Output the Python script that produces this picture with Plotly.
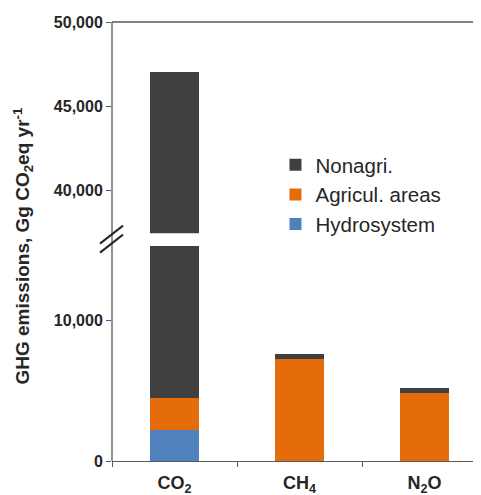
import plotly.graph_objects as go

categories = ["CO<sub>2</sub>", "CH<sub>4</sub>", "N<sub>2</sub>O"]
hydrosystem = [2200, 0, 0]
agricul = [2250, 7250, 4850]
nonagri = [42550, 370, 300]

series = [
    ("Hydrosystem", hydrosystem, "#4F81BD"),
    ("Agricul. areas", agricul, "#E46C0A"),
    ("Nonagri.", nonagri, "#404040"),
]

lower_range = [0, 15250]
upper_range = [37435, 50000]

fig = go.Figure()
for name, vals, col in series:
    fig.add_trace(go.Bar(x=categories, y=vals, name=name, marker_color=col,
                         marker_line_width=0, width=0.39, yaxis="y"))
for name, vals, col in series:
    fig.add_trace(go.Bar(x=categories, y=vals, name=name, marker_color=col,
                         marker_line_width=0, width=0.39, yaxis="y2",
                         showlegend=False))

axis_col = "#595959"
tick_font = dict(family="Liberation Sans, Arial", size=16, color="#262626", weight="bold")

fig.update_layout(
    width=473, height=487,
    margin=dict(l=104, r=0, t=14, b=34),
    barmode="stack",
    plot_bgcolor="white", paper_bgcolor="white",
    showlegend=True,
    legend=dict(x=0.443, y=0.72, xanchor="left", yanchor="top",
                traceorder="reversed",
                font=dict(family="Liberation Sans, Arial", size=20.5, color="#262626"),
                bgcolor="rgba(0,0,0,0)"),
    xaxis=dict(range=[-0.5, 2.452], showline=True, linecolor=axis_col, linewidth=1.3,
               ticks="outside", tickson="boundaries", ticklen=5, tickcolor=axis_col,
               ticklabelstandoff=5,
               tickfont=dict(family="Liberation Sans, Arial", size=18, color="#262626", weight="bold"),
               showgrid=False, anchor="y"),
    yaxis=dict(domain=[0, 0.4897], range=lower_range, dtick=10000, tickformat=",",
               showgrid=False, zeroline=False, showline=False,
               ticks="outside", ticklen=5, tickcolor=axis_col, tickfont=tick_font),
    yaxis2=dict(domain=[0.5187, 1], range=upper_range, dtick=5000, tickformat=",",
                showgrid=False, zeroline=False, showline=False, anchor="x",
                ticks="outside", ticklen=5, tickcolor=axis_col, tickfont=tick_font),
)

# axis frame lines
fig.add_shape(type="line", xref="paper", yref="paper", x0=0, x1=0, y0=0, y1=1,
              line=dict(color=axis_col, width=1.3))
fig.add_shape(type="line", xref="paper", yref="paper", x0=0, x1=1, y0=1, y1=1,
              line=dict(color=axis_col, width=1.3))
# break marks
gap_mid = (0.4897 + 0.5187) / 2
for (ya, yb) in [(-4, 14), (-13, 5)]:
    fig.add_shape(type="line", xref="paper", yref="paper",
                  xsizemode="pixel", ysizemode="pixel", xanchor=0, yanchor=gap_mid,
                  x0=-12, x1=11, y0=ya, y1=yb,
                  line=dict(color="#262626", width=2))

fig.add_annotation(text="GHG emissions, Gg CO<sub>2</sub>eq yr<sup>-1</sup>",
                   xref="paper", yref="paper", x=0, y=0.5, xanchor="center", yanchor="middle",
                   xshift=-89, yshift=-5, textangle=-90, showarrow=False,
                   font=dict(family="Liberation Sans, Arial", size=19, color="#262626", weight="bold"))

fig.write_html("out.html")
